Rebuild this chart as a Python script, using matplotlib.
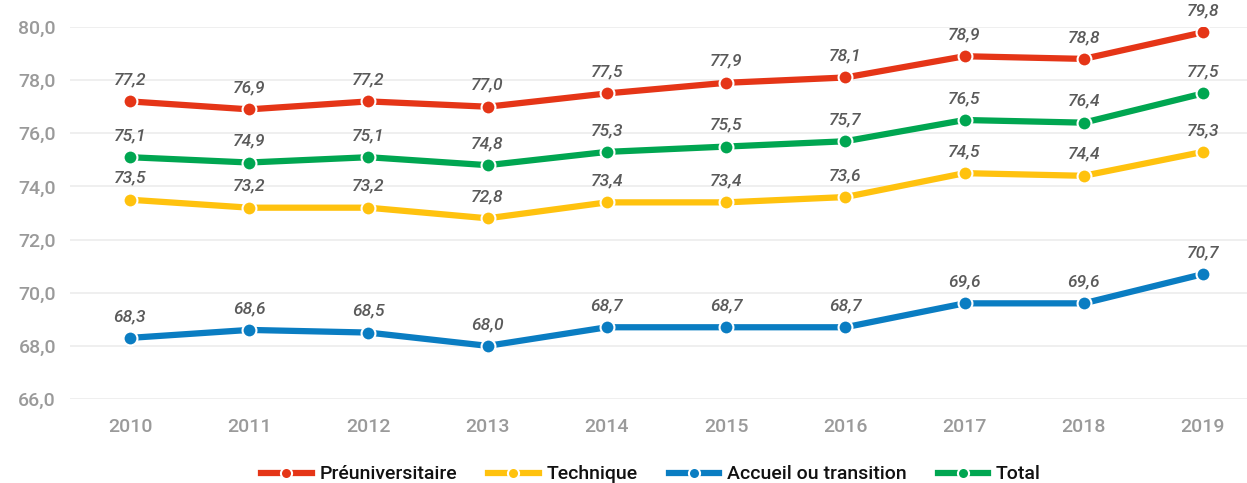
import matplotlib.pyplot as plt
from matplotlib.lines import Line2D

plt.rcParams['font.family'] = ['Roboto', 'DejaVu Sans']

years = [2010, 2011, 2012, 2013, 2014, 2015, 2016, 2017, 2018, 2019]
preuniv = [77.2, 76.9, 77.2, 77.0, 77.5, 77.9, 78.1, 78.9, 78.8, 79.8]
technique = [73.5, 73.2, 73.2, 72.8, 73.4, 73.4, 73.6, 74.5, 74.4, 75.3]
accueil = [68.3, 68.6, 68.5, 68.0, 68.7, 68.7, 68.7, 69.6, 69.6, 70.7]
total = [75.1, 74.9, 75.1, 74.8, 75.3, 75.5, 75.7, 76.5, 76.4, 77.5]

series = [
    ("Préuniversitaire", preuniv, "#E53517"),
    ("Technique", technique, "#FFC20E"),
    ("Accueil ou transition", accueil, "#0A7DC2"),
    ("Total", total, "#00A651"),
]

fig = plt.figure(figsize=(12.47, 4.83), dpi=100)
ax = fig.add_axes([70/1247, 1 - 399/483, 1 - 70/1247, (399 - 27)/483])

for name, vals, col in series:
    ax.plot(years, vals, color=col, linewidth=4.5, solid_capstyle='butt',
            marker='o', markersize=10, markerfacecolor=col,
            markeredgecolor='white', markeredgewidth=1.5, zorder=3)
    for x, v in zip(years, vals):
        ax.annotate(f"{v:.1f}".replace('.', ','), (x, v), xytext=(0, 10),
                    textcoords='offset points', ha='center', va='bottom',
                    fontsize=12.5, fontstyle='italic', fontweight='medium',
                    color='#5a5a5a', zorder=4)

ax.set_ylim(66, 80)
ax.set_xlim(2010 - 60/119.2, 2019 + 44/119.2)
ax.set_yticks([66, 68, 70, 72, 74, 76, 78, 80])
ax.set_yticklabels([f"{t:.1f}".replace('.', ',') for t in ax.get_yticks()],
                   fontweight='medium')
ax.set_xticks(years)
ax.set_xticklabels([str(y) for y in years], fontweight='medium')
ax.tick_params(axis='both', length=0, labelsize=14, labelcolor='#9a9a9a')
ax.tick_params(axis='y', pad=10)
ax.tick_params(axis='x', pad=14)
ax.grid(axis='y', color='#ececec', linewidth=1.2)
ax.set_axisbelow(True)
for s in ax.spines.values():
    s.set_visible(False)

handles = [Line2D([0], [0], color=c, linewidth=4.5, marker='o', markersize=8,
                  markerfacecolor=c, markeredgecolor='white', markeredgewidth=1.5)
           for _, _, c in series]
fig.legend(handles, [n for n, _, _ in series], loc='center', ncol=4,
           bbox_to_anchor=(0.522, 0.018), frameon=False,
           prop={'size': 14, 'weight': 'medium'},
           handlelength=2.6, columnspacing=1.6, handletextpad=0.4,
           labelcolor='#111111')

fig.savefig('out.png', dpi=100)
